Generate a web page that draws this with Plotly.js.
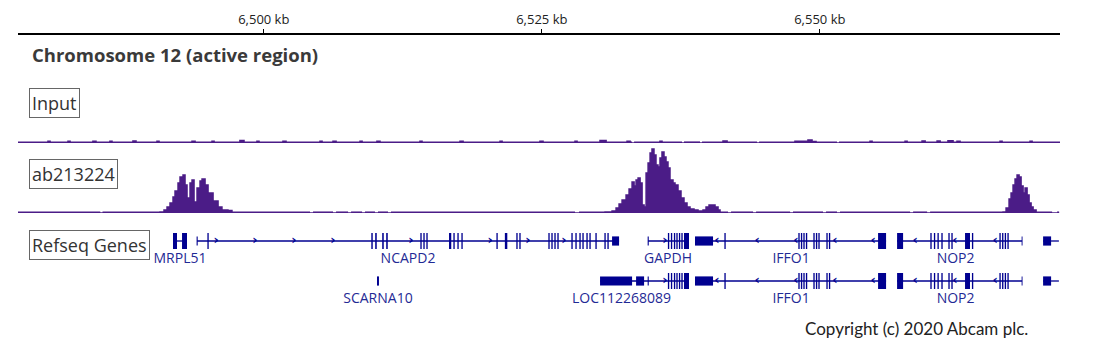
<!DOCTYPE html>
<html><head><meta charset="utf-8">
<script src="https://cdn.plot.ly/plotly-3.0.1.min.js"></script>
<style>html,body{margin:0;padding:0;background:#fff}#chart{width:1105px;height:351px}</style>
</head><body><div id="chart"></div>
<script>
// ---------------- data ----------------
const viewKb = [6477.9, 6571.6];
const tickKb = [6500, 6525, 6550];
const tickText = ['6,500 kb', '6,525 kb', '6,550 kb'];

// Input track (kb, signal)
const inputPos = [6477.90,
  6480.60,6480.78, 6482.40,6482.58, 6484.64,6484.91, 6486.17,6486.35, 6488.24,6488.51,
  6490.40,6490.58, 6493.55,6493.82, 6495.35,6495.53, 6497.86,6498.22, 6499.39,6499.57,
  6501.73,6502.00, 6505.06,6505.24, 6506.23,6506.50, 6508.66,6508.84, 6510.18,6510.45,
  6514.05,6514.23, 6517.65,6517.92, 6521.25,6521.43, 6524.84,6525.11, 6527.99,6528.17,
  6530.24,6530.78, 6532.67,6532.94, 6533.12,6533.20,6533.30, 6535.63,6535.81,
  6537.61,6537.70,6537.79, 6539.23,6539.32,6539.41, 6541.30,6541.66,
  6544.36,6544.45,6544.54, 6547.77,6548.94,6549.30,6549.66, 6551.55,6551.64,6551.73,
  6554.52,6554.70, 6557.67,6557.85, 6559.20,6559.47, 6560.55,6560.82, 6561.53,6561.98,
  6562.34,6562.61, 6566.21,6566.39, 6568.91,6569.09, 6571.60];
const inputVal = [0.8,
  1.8,0.8, 1.6,0.8, 1.8,0.8, 1.6,0.8, 2.0,0.8,
  1.6,0.8, 1.8,0.8, 1.6,0.8, 2.5,0.8, 1.6,0.8,
  1.8,0.8, 1.6,0.8, 1.8,0.8, 1.6,0.8, 1.8,0.8,
  1.6,0.8, 1.8,0.8, 1.6,0.8, 1.8,0.8, 1.6,0.8,
  2.5,0.8, 1.6,0.8, 0.8,null,0.8, 1.6,0.8,
  0.8,null,0.8, 0.8,null,0.8, 2.0,0.8,
  0.8,null,0.8, 1.8,3.0,1.5,0.8, 0.8,null,0.8,
  1.6,0.8, 1.6,0.8, 2.0,0.8, 2.0,0.8, 2.2,0.8,
  1.8,0.8, 1.6,0.8, 1.6,0.8, 0.8];

// ab213224 track (kb, signal)
const abPos = [6477.90, 6485.30, 6485.40, 6485.50,
  6490.67,6491.03,6491.30,6491.57,6491.84,6492.02,6492.29,6492.47,6492.74,6492.92,6493.10,
  6493.37,6493.55,6493.73,6494.00,6494.27,6494.45,6494.72,6494.99,6495.44,6495.89,6496.24,
  6496.78,6497.14,
  6504.16,6504.30,6504.43, 6506.23,6506.36,6506.50, 6507.58,6507.70,6507.85,
  6508.84,6508.97,6509.10, 6510.00,6510.13,6510.27, 6511.17,6511.30,6511.44,
  6527.99,6528.17,6528.35,
  6530.69,6531.32,6531.68,6531.95,6532.22,6532.58,6532.85,6533.12,6533.30,6533.48,6533.66,
  6533.84,6534.02,6534.20,6534.38,6534.56,6534.74,6534.91,6535.09,6535.27,6535.45,6535.63,
  6535.81,6535.99,6536.17,6536.35,6536.53,6536.80,6536.98,6537.25,6537.52,6537.79,6538.06,
  6538.33,6538.69,6539.05,6539.50,6539.77,6540.04,6540.31,6540.58,6540.85,6541.03,
  6541.75,6541.88,6542.02, 6544.00,6544.13,6544.27, 6547.33,6547.46,6547.59,
  6550.29,6550.42,6550.56, 6551.55,6551.68,6551.82, 6558.12,6558.25,6558.39,
  6559.65,6559.78,6559.92,
  6566.48,6566.75,6567.02,6567.20,6567.38,6567.56,6567.74,6567.92,6568.10,6568.28,6568.46,
  6568.64,6568.82,6569.00,6569.18,6569.45,
  6570.89,6571.10,6571.34,6571.52];
const abVal = [0.8, 0.8, null, 0.8,
  1,3,6,10,16,22,30,36,38,28,15,
  30,33,11,25,32,34,28,20,12,6,3,
  2.5,0.8,
  0.8,null,0.8, 0.8,null,0.8, 0.8,null,0.8,
  0.8,null,0.8, 0.8,null,0.8, 0.8,null,0.8,
  0.8,null,0.8,
  1,2,5,9,13,18,24,31,27,33,35,
  30,8,6,40,50,60,64,58,48,46,55,
  61,56,51,45,33,30,28,22,15,10,6,
  4,3,2,3,6,8,8,6,3,0.8,
  0.8,null,0.8, 0.8,null,0.8, 0.8,null,0.8,
  0.8,null,0.8, 0.8,null,0.8, 0.8,null,0.8,
  0.8,null,0.8,
  1,5,14,20,28,34,38,36,27,20,25,
  18,10,6,3,0.8,
  0.8,null,0.8,0.8];

// Refseq gene models: exons [start kb, end kb, coding(1) / utr(0)]
const exMRPL51 = [[6491.84,6492.20,1],[6492.65,6493.10,1]];
const exNCAPD2 = [[6493.96,6494.06,0],[6494.93,6495.05,1],[6509.67,6509.80,1],[6510.02,6510.16,1],
  [6510.65,6510.79,1],[6511.01,6511.15,1],[6514.08,6514.20,1],[6514.35,6514.47,1],[6514.62,6514.74,1],
  [6516.66,6516.86,1],[6517.05,6517.17,1],[6517.41,6517.53,1],[6517.77,6517.89,1],[6520.92,6521.04,1],
  [6521.68,6521.90,1],[6522.71,6522.83,1],[6522.98,6523.10,1],[6525.59,6525.71,1],[6525.86,6525.98,1],
  [6526.13,6526.25,1],[6526.40,6526.52,1],[6527.66,6527.78,1],[6528.02,6528.14,1],[6528.38,6528.50,1],
  [6528.65,6528.77,1],[6529.01,6529.13,1],[6529.28,6529.40,1],[6529.82,6529.94,1],[6530.63,6530.75,1],
  [6530.90,6531.02,1],[6531.32,6531.95,0]];
const exGAPDH = [[6534.52,6534.62,0],[6536.34,6536.46,1],[6536.61,6536.73,1],[6536.88,6537.00,1],
  [6537.10,6537.22,1],[6537.33,6537.45,1],[6537.55,6537.67,1],[6537.79,6538.24,1]];
const exLOC = [[6530.24,6533.12,0],[6533.48,6534.20,0]].concat(exGAPDH);
const exIFFO1 = [[6538.78,6540.40,0],[6541.42,6541.54,1],[6548.07,6548.19,1],[6548.30,6548.42,1],
  [6548.52,6548.64,1],[6548.75,6548.87,1],[6549.42,6549.54,1],[6549.65,6549.77,1],[6549.87,6549.99,1],
  [6550.59,6550.71,1],[6550.82,6550.94,1],[6555.24,6555.96,1]];
const exNOP2 = [[6556.95,6557.49,1],[6559.94,6560.06,1],[6560.26,6560.38,1],[6560.58,6560.70,1],
  [6560.93,6561.05,1],[6561.56,6561.68,1],[6561.83,6561.95,1],[6563.06,6563.51,1],[6563.68,6563.80,1],
  [6566.15,6566.27,1],[6566.39,6566.51,1],[6566.63,6566.75,1],[6566.87,6566.99,1],[6568.15,6568.23,0]];
const exRight = [[6570.08,6570.80,0]];
const exSCARNA10 = [[6510.18,6510.36,0]];

// strand arrows inside introns (kb)
const arNCAPD2 = [6495.71,6499.21,6502.72,6506.23,6513.24,6520.35,6523.76,6527.00];
const arGAPDH = [6536.08];
const arIFFO1 = [6540.76,6544.36,6547.85,6551.37,6554.79];
const arNOP2 = [6558.57,6562.16,6565.76];
const arNone = [];

// transcripts as drawn
const txName   = ['MRPL51','NCAPD2','GAPDH','IFFO1','NOP2','', 'SCARNA10','LOC112268089','IFFO1','NOP2',''];
const txRow    = [1,1,1,1,1,1, 2,2,2,2,2];
const txStart  = [6491.84,6494.00,6534.56,6538.78,6556.95,6570.08, 6510.18,6530.24,6538.78,6556.95,6570.08];
const txEnd    = [6493.10,6531.95,6538.24,6555.96,6568.19,6571.50, 6510.36,6538.24,6555.96,6568.19,6571.50];
const txLabel  = [6492.47,6512.97,6536.35,6547.42,6562.21,null, 6510.27,6532.17,6547.42,6562.21,null];
const txExons  = [exMRPL51,exNCAPD2,exGAPDH,exIFFO1,exNOP2,exRight, exSCARNA10,exLOC,exIFFO1,exNOP2,exRight];
const txArrows = [arNone,arNCAPD2,arGAPDH,arIFFO1,arNOP2,arNone, arNone,arGAPDH,arIFFO1,arNOP2,arNone];
const txStrand = ['+','+','+','-','-','+', '+','+','-','-','+'];

// ---------------- styling / build ----------------
const SIG = '#4b1c87';
const GENE = '#000090';
const GENE_TXT = '#1f2a95';

const traces = [];
traces.push({x: inputPos, y: inputVal, type: 'scatter', mode: 'lines', yaxis: 'y',
  line: {color: SIG, width: 1.6, shape: 'hv'}, fill: 'tozeroy', fillcolor: SIG,
  connectgaps: false, hoverinfo: 'skip'});
traces.push({x: abPos, y: abVal, type: 'scatter', mode: 'lines', yaxis: 'y2',
  line: {color: SIG, width: 1.5, shape: 'hv'}, fill: 'tozeroy', fillcolor: SIG,
  connectgaps: false, hoverinfo: 'skip'});

const shapes = [];
const arX = [], arY = [], arT = [];
const lbX = [], lbY = [], lbT = [];
for (let i = 0; i < txName.length; i++) {
  const r = txRow[i];
  if (txEnd[i] - txStart[i] > 0.3) {
    shapes.push({type: 'line', xref: 'x', yref: 'y3', x0: txStart[i], x1: txEnd[i], y0: r, y1: r,
      line: {color: GENE, width: 1.3}});
  }
  txExons[i].forEach(e => {
    const h = e[2] ? 0.2 : 0.115;
    shapes.push({type: 'rect', xref: 'x', yref: 'y3', x0: e[0], x1: e[1], y0: r - h, y1: r + h,
      fillcolor: GENE, line: {width: 0}, layer: 'above'});
  });
  txArrows[i].forEach(a => { arX.push(a); arY.push(r); arT.push(txStrand[i] === '+' ? '›' : '‹'); });
  if (txLabel[i] !== null) { lbX.push(txLabel[i]); lbY.push(r + 0.45); lbT.push(txName[i]); }
}
traces.push({x: arX, y: arY, text: arT, type: 'scatter', mode: 'text', yaxis: 'y3',
  textfont: {family: 'DejaVu Sans', size: 13, color: GENE, weight: 'bold'}, textposition: 'middle center', hoverinfo: 'skip'});
traces.push({x: lbX, y: lbY, text: lbT, type: 'scatter', mode: 'text', yaxis: 'y3',
  textfont: {family: 'Open Sans', size: 14, color: GENE_TXT}, textposition: 'middle center', hoverinfo: 'skip'});

// pixel helpers for paper positioning (plot area: x 18..1060, y 33..351)
const px = x => (x - 18) / 1042;
const py = y => 1 - (y - 33) / 318;

const boxStyle = {xref: 'paper', yref: 'paper', xanchor: 'left', yanchor: 'middle', showarrow: false,
  font: {family: 'Open Sans', size: 18, color: '#333'}, bordercolor: '#666', borderwidth: 1,
  borderpad: 2, bgcolor: '#fff'};

const layout = {
  width: 1105, height: 351,
  margin: {l: 18, r: 45, t: 33, b: 0},
  paper_bgcolor: '#fff', plot_bgcolor: '#fff',
  showlegend: false, hovermode: false,
  font: {family: 'Open Sans', color: '#222'},
  xaxis: {range: viewKb, side: 'top', anchor: 'free', position: 1,
    showline: true, linecolor: '#000', linewidth: 1.5, ticks: 'outside', ticklen: 4,
    tickcolor: '#000', tickwidth: 1, tickvals: tickKb, ticktext: tickText,
    tickfont: {family: 'Open Sans', size: 13, color: '#222'}, showgrid: false, zeroline: false,
    fixedrange: true},
  yaxis: {domain: [py(143), py(98)], range: [0, 45], visible: false, fixedrange: true},
  yaxis2: {domain: [py(213), py(143)], range: [0, 70], visible: false, fixedrange: true},
  yaxis3: {domain: [py(305), py(228)], range: [2.6, 0.675], visible: false, fixedrange: true},
  shapes: shapes,
  annotations: [
    {xref: 'paper', yref: 'paper', x: px(30), y: py(54), xanchor: 'left', yanchor: 'middle',
     showarrow: false, text: '<b>Chromosome 12 (active region)</b>',
     font: {family: 'Open Sans', size: 18.5, color: '#3a3a3a'}},
    Object.assign({x: px(29), y: py(103), text: 'Input'}, boxStyle),
    Object.assign({x: px(29), y: py(173.5), text: 'ab213224'}, boxStyle),
    Object.assign({x: px(29), y: py(244.5), text: 'Refseq Genes'}, boxStyle),
    {xref: 'paper', yref: 'paper', x: px(1030), y: py(328), xanchor: 'right', yanchor: 'middle',
     showarrow: false, text: 'Copyright (c) 2020 Abcam plc.',
     font: {family: 'Lato', size: 17, color: '#222'}}
  ]
};

Plotly.newPlot('chart', traces, layout, {staticPlot: true, displayModeBar: false});
</script></body></html>
